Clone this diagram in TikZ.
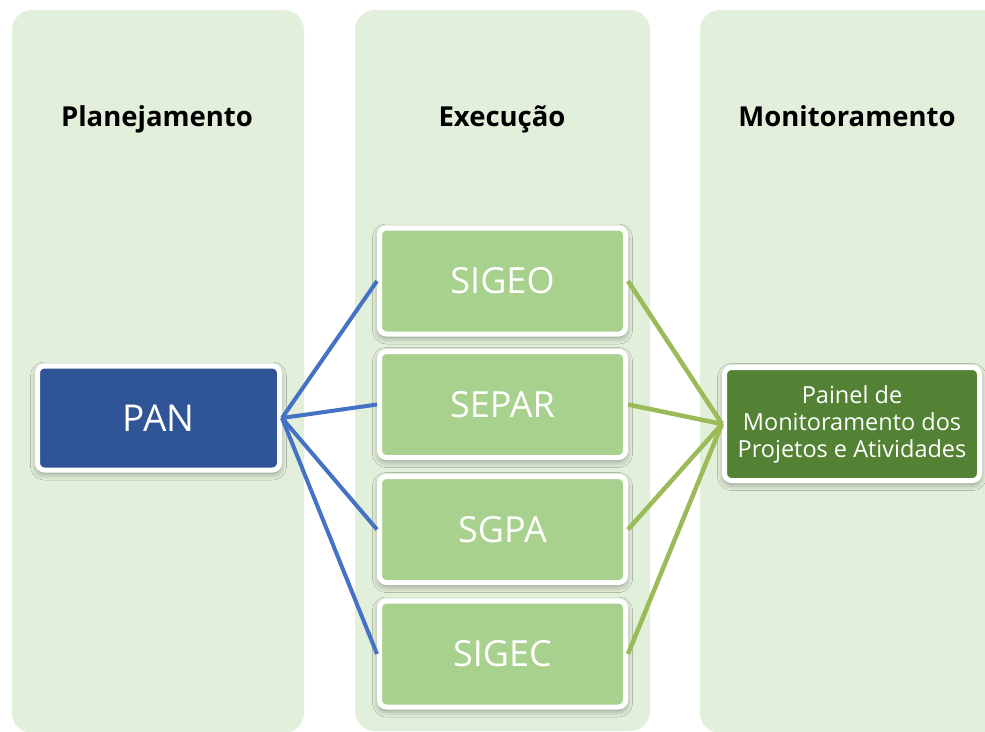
\documentclass[tikz,border=0pt]{standalone}
\usepackage{fontspec}
\setmainfont{Open Sans}
\usetikzlibrary{positioning, shadows.blur}
\definecolor{phaseback}{HTML}{E2EFDA}
\definecolor{panblue}{HTML}{2F5597}
\definecolor{sysgreen}{HTML}{A9D18E}
\definecolor{paineldark}{HTML}{548235}
\definecolor{linkblue}{HTML}{4472C4}
\definecolor{linkgreen}{HTML}{9BBB59}

\begin{document}
\begin{tikzpicture}[x=1pt, y=-1pt,% styles used in image code
 phase/.style = {fill=phaseback, rounded corners=20pt},
 title/.style = {font=\fontsize{27.5}{32}\selectfont\bfseries, text=black,
                 anchor=base},
   box/.style = {draw=white, line width=5pt, rounded corners=7pt,
                 text=white, align=center, inner sep=0pt,
                 blur shadow={shadow xshift=0pt, shadow yshift=-3pt,
                              shadow blur radius=7pt, shadow opacity=45}},
sysbox/.style = {box, fill=sysgreen, minimum width=246pt, minimum height=106pt,
                 font=\fontsize{36}{42}\selectfont},
 blink/.style = {draw=linkblue, line width=4pt},
 glink/.style = {draw=linkgreen, line width=4.5pt}
                    ]
	\useasboundingbox (0,0) rectangle (985,731);
	\clip (0,0) rectangle (985,731);

	% columns
	\fill[phase] (12,10) rectangle (304,733);
	\fill[phase] (355,10) rectangle (650,731);
	\fill[phase] (700,10) rectangle (1010,733);

	\node[title] (tplan) at (157,126) {Planejamento};
	\node[title] (texec) at (502,126) {Execução};
	\node[title] (tmon)  at (847,126) {Monitoramento};

	% boxes
	\node[box, fill=panblue, minimum width=242pt, minimum height=104pt,
	      font=\fontsize{37}{44}\selectfont] (pan) at (158.5,418) {PAN};
	\node[sysbox] (sigeo) at (502.5,281)   {SIGEO};
	\node[sysbox] (separ) at (502.5,404.5) {SEPAR};
	\node[sysbox] (sgpa)  at (502.5,529.5) {SGPA};
	\node[sysbox] (sigec) at (502.5,654)   {SIGEC};
	\node[box, fill=paineldark, minimum width=255pt, minimum height=113pt,
	      font=\fontsize{23.5}{27}\selectfont] (painel) at (852,424)
	      {Painel de\\Monitoramento dos\\Projetos e Atividades};

	% connectors
	\foreach \s in {sigeo, separ, sgpa, sigec}{
		\draw[blink] (pan.east) -- (\s.west);
		\draw[glink] (\s.east) -- (painel.west);
	}
\end{tikzpicture}
\end{document}
